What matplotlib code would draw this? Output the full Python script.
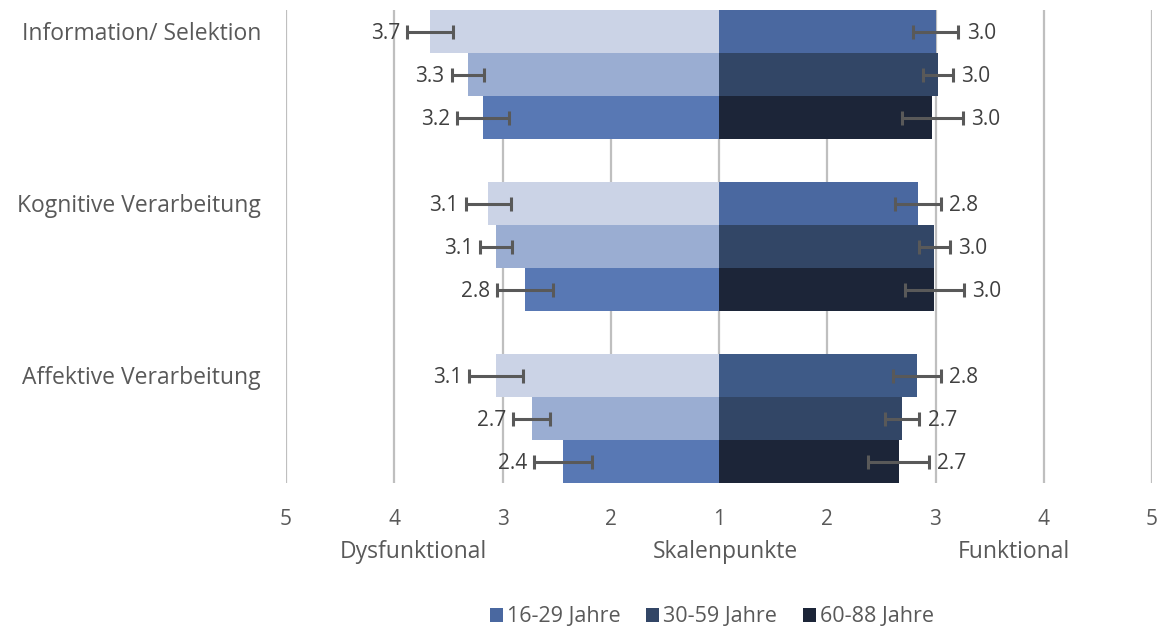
import matplotlib
matplotlib.use("Agg")
import matplotlib.pyplot as plt
from matplotlib.patches import Patch

# scale values (1..5), left = dysfunktional, right = funktional
categories = ["Information/ Selektion", "Kognitive Verarbeitung", "Affektive Verarbeitung"]
groups = ["16-29 Jahre", "30-59 Jahre", "60-88 Jahre"]

left_vals = [[3.67, 3.32, 3.18], [3.13, 3.06, 2.79], [3.06, 2.73, 2.44]]
left_err = [[0.21, 0.15, 0.24], [0.21, 0.15, 0.26], [0.25, 0.17, 0.27]]
right_vals = [[3.00, 3.02, 2.97], [2.84, 2.99, 2.99], [2.83, 2.69, 2.66]]
right_err = [[0.21, 0.14, 0.28], [0.21, 0.14, 0.27], [0.22, 0.16, 0.28]]

tick_pos = [-4, -3, -2, -1, 0, 1, 2, 3, 4]
tick_labels = ["5", "4", "3", "2", "1", "2", "3", "4", "5"]

left_colors = ["#CBD3E6", "#9AADD2", "#5878B4"]
right_colors = ["#4A68A0", "#324666", "#1C2538"]
right_colors_grp = [right_colors, right_colors, ["#3E5A87", "#324666", "#1C2538"]]

plt.rcParams['font.family'] = ['Open Sans', 'DejaVu Sans']

fig = plt.figure(figsize=(11.67, 6.3), dpi=100)
ax = fig.add_axes([286 / 1167, 1 - 483 / 630, 866 / 1167, 473 / 630])

for x in tick_pos:
    ax.axvline(x, color="#BFBFBF", lw=1.6, zorder=0)

for g in range(len(categories)):
    for j in range(3):
        y = g * 4 + j
        lv = left_vals[g][j] - 1
        rv = right_vals[g][j] - 1
        ax.barh(y, -lv, height=1.0, left=0, color=left_colors[j], zorder=2)
        ax.barh(y, rv, height=1.0, left=0, color=right_colors_grp[g][j], zorder=2)
        ax.errorbar(-lv, y, xerr=left_err[g][j], fmt="none", ecolor="#595959",
                    elinewidth=2.2, capsize=5, capthick=2.2, zorder=3)
        ax.errorbar(rv, y, xerr=right_err[g][j], fmt="none", ecolor="#595959",
                    elinewidth=2.2, capsize=5, capthick=2.2, zorder=3)
        ax.annotate("%.1f" % left_vals[g][j], (-lv - left_err[g][j], y),
                    xytext=(-5, -1.5), textcoords="offset points", ha="right",
                    va="center", fontsize=15, color="#404040")
        ax.annotate("%.1f" % right_vals[g][j], (rv + right_err[g][j], y),
                    xytext=(6, -1.5), textcoords="offset points", ha="left",
                    va="center", fontsize=15, color="#404040")
    ax.annotate(categories[g], (-4, g * 4), xytext=(-18, -1.5), textcoords="offset points",
                ha="right", va="center", fontsize=16.5, color="#595959")

ax.set_xlim(-4, 4)
ax.set_ylim(10.5, -0.5)
ax.set_xticks(tick_pos)
ax.set_xticklabels(tick_labels)
ax.tick_params(axis="x", length=0, pad=19, labelsize=15, labelcolor="#595959")
ax.set_yticks([])
for s in ax.spines.values():
    s.set_visible(False)

ax.text(-2.82, 12.1, "Dysfunktional", ha="center", va="center", fontsize=16.5, color="#595959")
ax.text(0.06, 12.1, "Skalenpunkte", ha="center", va="center", fontsize=16.5, color="#595959")
ax.text(2.72, 12.1, "Funktional", ha="center", va="center", fontsize=16.5, color="#595959")

handles = [Patch(facecolor=c, edgecolor="none") for c in right_colors]
fig.legend(handles, groups, loc="center", bbox_to_anchor=(712 / 1167, 1 - 617 / 630),
           ncol=3, frameon=False, fontsize=15.5, handlelength=0.6, handleheight=0.6,
           handletextpad=0.2, columnspacing=1.2, labelcolor="#595959")

fig.savefig("out.png", dpi=100)
